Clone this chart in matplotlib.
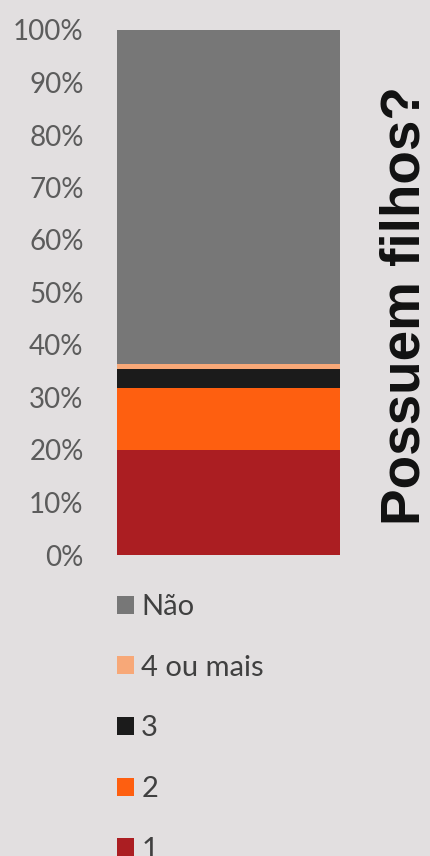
import matplotlib
matplotlib.use("Agg")
import matplotlib.pyplot as plt
from matplotlib.patches import Patch
from matplotlib.ticker import PercentFormatter

# Share of respondents by number of children (stacked, bottom to top)
categories = ["1", "2", "3", "4 ou mais", "Não"]
shares = [20.0, 11.8, 3.7, 0.8, 63.7]
colors = ["#ab1e22", "#fe5f10", "#1b1b1b", "#f7a878", "#777777"]
tick_values = [0, 10, 20, 30, 40, 50, 60, 70, 80, 90, 100]
title = "Possuem filhos?"

bg = "#e2dfe0"
W, H = 431, 856
fig = plt.figure(figsize=(W / 100, H / 100), dpi=100, facecolor=bg)
ax = fig.add_axes([117 / W, 1 - 555 / H, (340 - 117) / W, (555 - 30) / H])
ax.set_facecolor(bg)

bottom = 0.0
for cat, val, col in zip(categories, shares, colors):
    ax.bar([0], [val], bottom=bottom, width=1.0, color=col, label=cat)
    bottom += val

ax.set_xlim(-0.5, 0.5)
ax.set_ylim(0, 100)
ax.set_xticks([])
ax.set_yticks(tick_values)
ax.yaxis.set_major_formatter(PercentFormatter(decimals=0))
ax.tick_params(axis="y", length=0, pad=24, labelsize=20, labelcolor="#5c5c5c")
for lbl in ax.get_yticklabels():
    lbl.set_fontfamily("Lato")
for s in ax.spines.values():
    s.set_visible(False)

# Legend listed top to bottom in reverse stacking order
handles = [Patch(facecolor=c, edgecolor="none") for c in colors][::-1]
labels = categories[::-1]
fig.legend(handles, labels, loc="upper left",
           bbox_to_anchor=(117 / W, 1 - 594 / H), borderpad=0,
           borderaxespad=0,
           frameon=False, handlelength=0.58, handleheight=0.58,
           handletextpad=0.25, labelspacing=1.19,
           prop={"family": "Lato", "size": 21},
           labelcolor="#404040")

fig.text(406 / W, 1 - 306 / H, title, rotation=90, ha="center", va="center",
         fontsize=39.5, fontweight="bold", family="Liberation Sans", color="#111111")

fig.savefig("out.png", dpi=100, facecolor=bg)
